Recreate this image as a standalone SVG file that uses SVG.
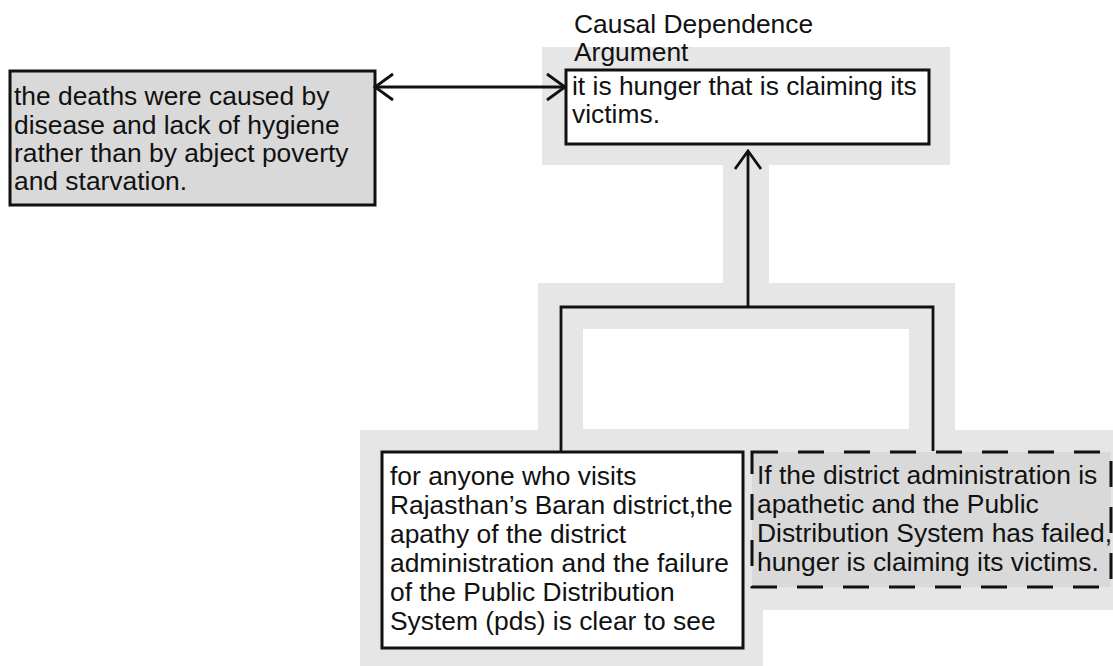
<svg xmlns="http://www.w3.org/2000/svg" width="1113" height="666" viewBox="0 0 1113 666">
<style>
text{font-family:"Liberation Sans",Arial,sans-serif;font-size:26.4px;fill:#111}
.box{stroke:#111;stroke-width:3}
.conn{stroke:#111;stroke-width:2.8;fill:none}
</style>
<defs>
<marker id="open" viewBox="0 0 22 30" refX="20" refY="15" markerWidth="22" markerHeight="30" markerUnits="userSpaceOnUse" orient="auto-start-reverse">
<path d="M2,2 L20,15 L2,28" fill="none" stroke="#111" stroke-width="2.8"/>
</marker>
</defs>
<rect width="1113" height="666" fill="#fff"/>
<g id="background" fill="#e6e6e6">
<rect x="542" y="47" width="408" height="118"/>
<rect x="723" y="165" width="46" height="118"/>
<path fill-rule="evenodd" d="M538,283 H955 V430 H1113 V610 H763 V666 H360 V430 H538 Z M583,329 V429 H909 V329 Z"/>
</g>
<g id="label">
<text x="574" y="33">Causal Dependence</text>
<text x="574" y="61">Argument</text>
</g>
<g id="conclusion">
<rect class="box" x="566" y="70" width="363" height="74" fill="#fff"/>
<text x="572" y="95">it is hunger that is claiming its</text>
<text x="572" y="123">victims.</text>
</g>
<g id="rebuttal">
<rect class="box" x="10" y="71" width="365" height="134" fill="#d9d9d9"/>
<text x="14" y="105">the deaths were caused by</text>
<text x="14" y="134">disease and lack of hygiene</text>
<text x="14" y="162">rather than by abject poverty</text>
<text x="14" y="190">and starvation.</text>
</g>
<g id="premise">
<rect class="box" x="382" y="452" width="361" height="196" fill="#fff"/>
<text x="390" y="485">for anyone who visits</text>
<text x="390" y="514">Rajasthan’s Baran district,the</text>
<text x="390" y="543">apathy of the district</text>
<text x="390" y="572">administration and the failure</text>
<text x="390" y="601">of the Public Distribution</text>
<text x="390" y="630">System (pds) is clear to see</text>
</g>
<g id="warrant">
<rect class="box" x="752" y="452" width="359" height="135" fill="#d9d9d9" stroke-dasharray="26 20"/>
<text x="757" y="484">If the district administration is</text>
<text x="757" y="513">apathetic and the Public</text>
<text x="757" y="542">Distribution System has failed,</text>
<text x="757" y="571">hunger is claiming its victims.</text>
</g>
<g id="connectors">
<line class="conn" x1="375" y1="87" x2="565" y2="87" marker-start="url(#open)" marker-end="url(#open)"/>
<line class="conn" x1="748" y1="307" x2="748" y2="151" marker-end="url(#open)"/>
<polyline class="conn" points="561,451 561,307 933,307 933,451"/>
</g>
</svg>
